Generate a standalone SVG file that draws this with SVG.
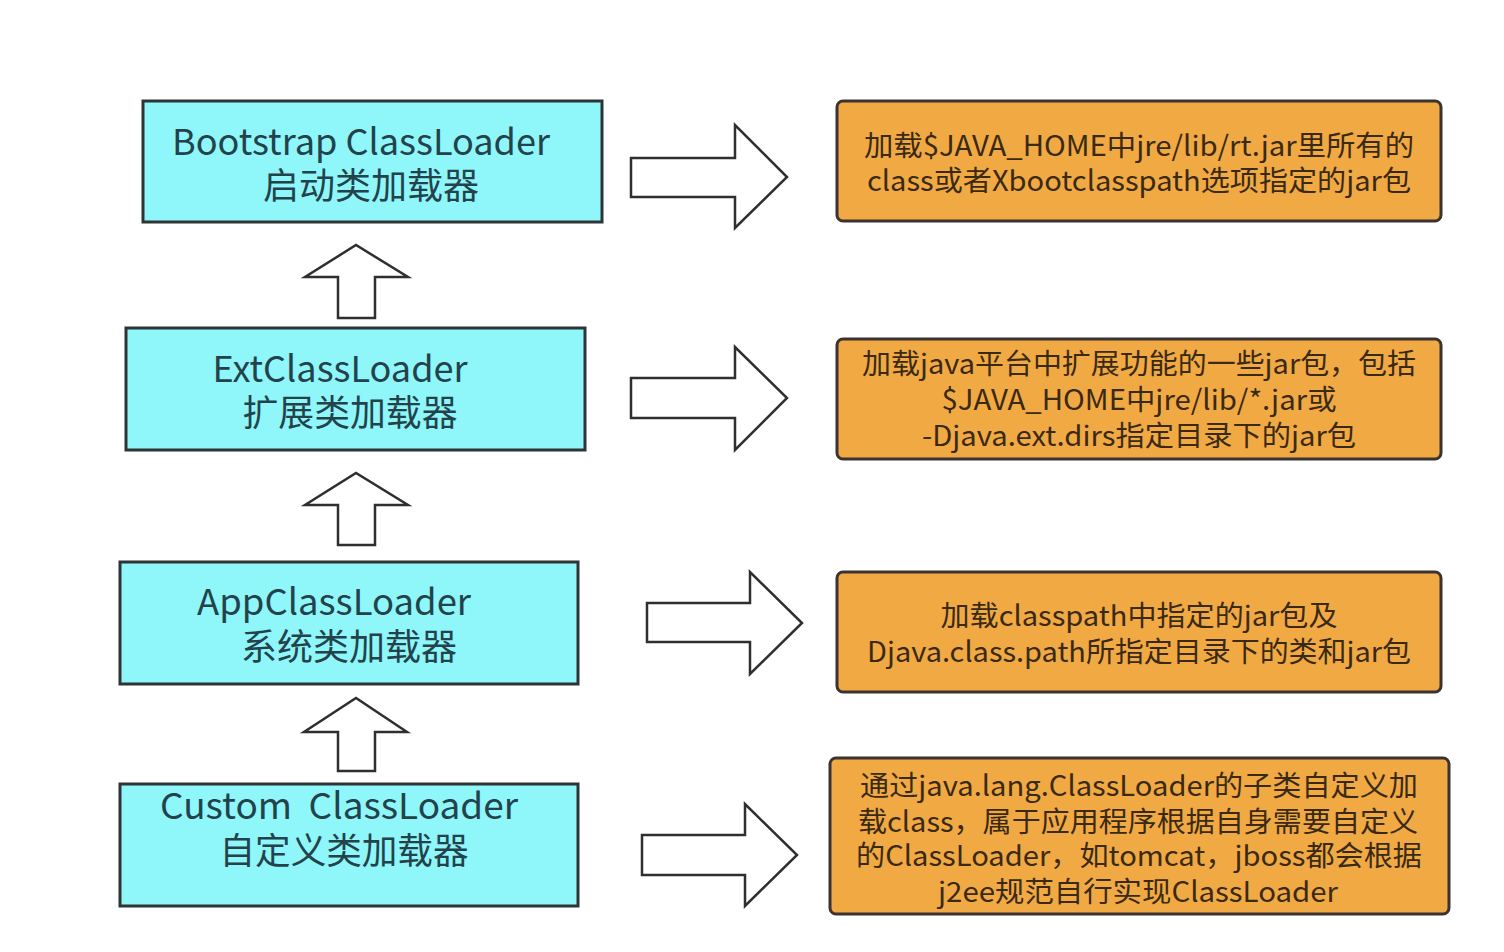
<svg xmlns="http://www.w3.org/2000/svg" width="1504" height="952" viewBox="0 0 1504 952">
<style>
.cy{fill:#8ff6fa;stroke:#2e3436;stroke-width:3}
.or{fill:#f1a944;stroke:#3a3330;stroke-width:3}
.ar{fill:#ffffff;stroke:#2f2f2f;stroke-width:2.5;stroke-linejoin:miter}
.tc{font-family:"Noto Sans CJK SC","Noto Sans",sans-serif;font-size:36px;fill:#22434a;text-anchor:middle}
.to{font-family:"Noto Sans CJK SC","Noto Sans",sans-serif;font-size:28px;fill:#3a2a14;text-anchor:middle}
</style>
<rect width="1504" height="952" fill="#ffffff"/>
<g id="connectors">
<polygon class="ar" points="338,318 375,318 375,277 408,277 356,245 305,277 338,277"/>
<polygon class="ar" points="338,545 375,545 375,505 408,505 356,473 305,505 338,505"/>
<polygon class="ar" points="338,771 375,771 375,732 407,732 356,698 304,732 338,732"/>
<polygon class="ar" points="631,158 735,158 735,125 787,177 735,228 735,197 631,197"/>
<polygon class="ar" points="631,378 735,378 735,347 787,398 735,450 735,418 631,418"/>
<polygon class="ar" points="647,603 750,603 750,572 802,623 750,674 750,642 647,642"/>
<polygon class="ar" points="642,835 745,835 745,804 797,855 745,906 745,875 642,875"/>
</g>
<g id="bootstrap">
<rect class="cy" x="143" y="101" width="459" height="121"/>
<text class="tc" x="361" y="155" textLength="378" lengthAdjust="spacingAndGlyphs">Bootstrap ClassLoader</text>
<text class="tc" x="371" y="199" textLength="216" lengthAdjust="spacingAndGlyphs">启动类加载器</text>
</g>
<g id="ext">
<rect class="cy" x="126" y="328" width="459" height="122"/>
<text class="tc" x="340" y="382" textLength="255" lengthAdjust="spacingAndGlyphs">ExtClassLoader</text>
<text class="tc" x="350" y="426" textLength="215" lengthAdjust="spacingAndGlyphs">扩展类加载器</text>
</g>
<g id="app">
<rect class="cy" x="120" y="562" width="458" height="122"/>
<text class="tc" x="334" y="615" textLength="274" lengthAdjust="spacingAndGlyphs">AppClassLoader</text>
<text class="tc" x="349" y="660" textLength="216" lengthAdjust="spacingAndGlyphs">系统类加载器</text>
</g>
<g id="custom">
<rect class="cy" x="120" y="784" width="458" height="122"/>
<text class="tc" x="339" y="819" textLength="358" lengthAdjust="spacingAndGlyphs" xml:space="preserve">Custom  ClassLoader</text>
<text class="tc" x="344" y="864" textLength="249" lengthAdjust="spacingAndGlyphs">自定义类加载器</text>
</g>
<g id="desc-bootstrap">
<rect class="or" x="837" y="101" width="604" height="120" rx="6"/>
<text class="to" x="1139" y="156" textLength="550" lengthAdjust="spacingAndGlyphs">加载$JAVA_HOME中jre/lib/rt.jar里所有的</text>
<text class="to" x="1139" y="191" textLength="544" lengthAdjust="spacingAndGlyphs">class或者Xbootclasspath选项指定的jar包</text>
</g>
<g id="desc-ext">
<rect class="or" x="837" y="339" width="604" height="120" rx="6"/>
<text class="to" x="1139" y="374" textLength="554" lengthAdjust="spacingAndGlyphs">加载java平台中扩展功能的一些jar包，包括</text>
<text class="to" x="1139" y="410" textLength="395" lengthAdjust="spacingAndGlyphs">$JAVA_HOME中jre/lib/*.jar或</text>
<text class="to" x="1139" y="446" textLength="434" lengthAdjust="spacingAndGlyphs">-Djava.ext.dirs指定目录下的jar包</text>
</g>
<g id="desc-app">
<rect class="or" x="837" y="572" width="604" height="120" rx="6"/>
<text class="to" x="1139" y="626" textLength="397" lengthAdjust="spacingAndGlyphs">加载classpath中指定的jar包及</text>
<text class="to" x="1139" y="662" textLength="544" lengthAdjust="spacingAndGlyphs">Djava.class.path所指定目录下的类和jar包</text>
</g>
<g id="desc-custom">
<rect class="or" x="830" y="758" width="619" height="156" rx="6"/>
<text class="to" x="1139" y="796" textLength="558" lengthAdjust="spacingAndGlyphs">通过java.lang.ClassLoader的子类自定义加</text>
<text class="to" x="1138" y="832" textLength="560" lengthAdjust="spacingAndGlyphs">载class，属于应用程序根据自身需要自定义</text>
<text class="to" x="1139" y="866" textLength="566" lengthAdjust="spacingAndGlyphs">的ClassLoader，如tomcat，jboss都会根据</text>
<text class="to" x="1138" y="902" textLength="400" lengthAdjust="spacingAndGlyphs">j2ee规范自行实现ClassLoader</text>
</g>
</svg>
